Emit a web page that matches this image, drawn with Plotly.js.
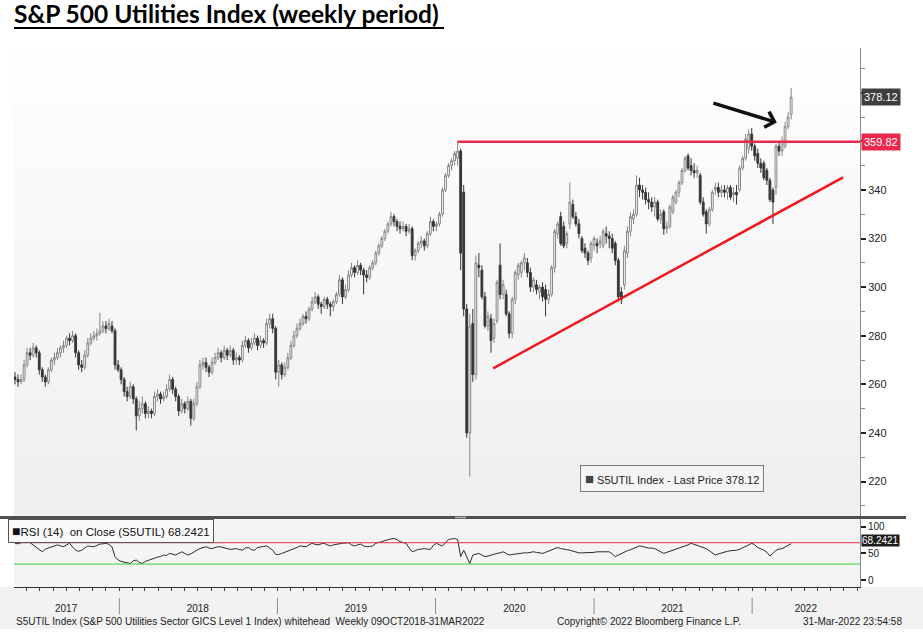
<!DOCTYPE html>
<html><head><meta charset="utf-8">
<script src="https://cdn.plot.ly/plotly-3.0.1.min.js"></script>
<style>html,body{margin:0;padding:0;background:#fff}#chart{width:923px;height:643px}</style>
</head><body><div id="chart"></div>
<script>
// ---- DATA (weekly candles) ----
const firstWeek = '2017-05-05';
const openPx = [
263,262,261,262,268,273,272,275,273,266,
263,261,266,270,271,273,275,276,279,278,
280,273,268,267,272,277,279,280,281,282,
284,283,284,282,268,266,262,257,255,259,
254,247,250,252,248,249,248,255,256,254,
255,258,262,258,255,249,252,250,253,246,
252,259,268,269,267,265,269,271,273,271,
274,272,274,270,271,270,276,278,275,277,
279,276,278,277,285,287,283,265,268,264,
267,271,276,280,283,285,288,287,291,294,
296,293,292,295,293,292,294,297,303,296,
299,305,308,306,309,307,305,304,308,310,
314,317,320,323,326,329,327,325,324,325,
323,324,313,315,318,319,317,322,327,325,
326,330,340,346,350,352,353,356,339,291,
240,285,264,309,307,296,284,287,279,286,
309,297,297,289,281,295,305,306,310,310,
306,300,301,298,300,299,295,297,308,322,
329,325,318,326,334,329,326,320,316,314,
312,317,318,318,317,322,321,320,318,311,
298,301,314,323,328,330,342,340,339,336,
335,333,335,328,331,324,325,331,335,339,
343,348,354,350,348,347,346,335,331,326,
332,340,341,339,340,339,341,338,339,340,
349,353,357,363,358,355,351,351,348,344,
340,341,358,356,358,366,371];
const highPx = [
265,264,264,270,275,275,277,276,274,267,
264,267,271,273,275,276,278,280,281,282,
281,274,270,274,279,281,282,283,289.4,286,
286,287,286,283,270,267,263,259,261,260,
255,253,255,253,251,250,257,258,257,257,
260,264,263,259,256,254,253,255,254,254,
261,270,271,271,268,271,273,275,274,276,
275,276,275,273,272,278,280,279,279,281,
280,280,279,287,289,289,284,270,269,269,
273,278,282,285,287,289,290,292,296,298,
297,294,296,296,294,295,298,305,304,301,
307,310,309,311,310,308,307,309,311,315,
318,321,324,327,331,330,328,327,327,326,
326,325,316,319,321,320,323,329,328,327,
331,341,347,351,353,356,359.82,357,342,293,
289,291,313,314,309,298,290,289,287,303,
318,303,299,290,296,307,310,311,314,312,
308,304,303,301,302,301,299,309,324,327,
331,327,323,343,336,331,328,321,318,315,
319,321,320,321,324,325,323,322,319,312,
300,317,325,331,332,346,345,342,341,339,
337,337,336,332,332,327,334,338,340,344,
349,354,355,353,351,350,347,337,332,333,
340,343,343,342,342,342,342,341,342,350,
354,363,365,365.5,359,357,353,352,349,345,
341,359,360,362,368,372,382];
const lowPx = [
260,259,260,261,267,270,271,271,264,261,
259,260,265,268,270,271,273,275,276,277,
271,266,265,266,271,276,278,278,280,281,
281,282,281,266,265,260,255,253,254,252,
241,245,248,246,246,246,247,253,252,253,
254,257,256,253,247,248,248,249,243,245,
251,258,266,265,263,264,268,270,269,270,
270,271,268,268,268,269,275,273,274,276,
274,275,275,276,283,281,262,259,262,263,
266,270,275,279,282,284,285,286,290,293,
291,289,291,291,288,290,293,296,293,295,
298,304,304,305,305,297,302,303,307,309,
313,316,319,322,325,325,323,322,323,321,
322,311,311,314,316,315,316,321,323,323,
325,329,339,345,348,350,350,307,288,238,
222,261,262,304,295,283,282,273,277,285,
295,295,288,279,279,293,303,304,307,304,
298,298,297,295,294,288,293,296,306,320,
317,316,316,324,328,325,320,314,312,309,
310,315,314,316,316,318,316,314,309,294,
293,299,312,321,326,329,337,336,334,332,
331,329,327,326,321.5,322,324,330,334,337,
342,347,348,346,345,345,334,329,322,325,
331,338,337,337,337,336,336,335,334,339,
348,352,355,356,352,349,347,344,342,335,
326,338,354,354,357,365,369];
const closePx = [
262,261,262,268,273,272,275,273,266,263,
261,266,270,271,273,275,276,279,278,280,
273,268,267,272,277,279,280,281,282,284,
283,285,282,268,266,262,257,255,259,254,
247,250,252,248,249,248,255,256,254,255,
258,262,258,255,249,252,250,253,246,252,
259,268,269,267,265,269,271,273,271,274,
272,274,270,271,270,276,278,275,277,279,
276,278,277,285,287,283,265,268,264,267,
271,276,280,283,285,288,287,291,294,296,
293,292,295,293,292,294,297,303,296,299,
305,308,306,309,307,305,304,308,310,314,
317,320,323,326,329,327,325,324,325,323,
324,313,315,318,319,317,322,327,325,326,
330,340,346,350,352,355,356,314,291,240,
284,264,310,308,296,284,288,278,285,302,
297,301,289,281,295,306,309,310,312,306,
300,303,299,300,296,295,297,308,323,326,
318,317,322,335,329,326,322,315,314,311,
318,320,317,319,323,321,320,316,311,296,
295,315,323,329,330,342,340,339,336,335,
333,335,328,330,324,325,333,337,339,343,
348,353,349,348,347,348,335,330,326,332,
339,341,339,340,339,341,337,339,338,349,
353,361,363,358,354,351,349,345,344,336,
335,358,356,360,366,370,378.12];
const rsi14 = [
69,68,70,72,74,70,66,62.5,57,53,
58,60,62.5,64,66,64,62.5,66,69,62,
56,54,56,60,64,63,62.5,65,67.5,68,
69,67,62,44,38,35,34,32,31,36,
37.5,33,31,35,37.5,39,41,43,44,47,
46,50,49,47,50,53,50,47,49,53,
56,59,61,62.5,60,59,61,62.5,62,61,
59,57.5,58,59,57,56,60,61,57,56,
61,62.5,63,64,60,56,48,48,50,52,
55,57,59,61,64,63,62.5,66,69,67,
66,68,69,66,64,66,67.5,68,69,69.5,
70,66,64,66,67.5,64,62.5,63,64,69,
70,72,74,76,77,78,76,72,70,69,
60,53,55,57.5,58,59,58,57.5,65,69,
66,64,70,76,77,78,76,44,56,44,
31,47,48,50,47,44,45,47,48,50,
51,53,50,47,48,49,50,51,51,51,
52,53,52,51,50,52,54,56,58,61,
59,57.5,57,56,54,52,51,51,51,51,
52,52,53,53,53,53,53,49,44,47,
50,53,55,57,59,62,64,63,61,60,
60,59,56,53,50,52,54,56,58,60,
61,63,66,69,67,65,64,62,59,55,
51,47,49,51,53,54,55,55,56,57.5,
60,63,66,69,66,61,59,56,52,45,
50,56,58,59,62,65,68.2421];
const yearTickDates = ['2017-08-31','2018-07-01','2019-07-01','2020-07-01','2021-07-01','2022-05-05'];
const yearTickLabels = ['2017','2018','2019','2020','2021','2022'];
const yearStarts = ['2018-01-01','2019-01-01','2020-01-01','2021-01-01','2022-01-01'];
const lastPrice = 378.12;
const resistanceLevel = 359.82;
const rsiLast = 68.2421;
const rsiUpper = 70, rsiLower = 30;
const trendStart = ['2020-05-13', 266.6];
const trendEnd = ['2022-07-30', 345.2];
const arrowTip = ['2022-02-27', 367.7];
const priceTicks = [220,240,260,280,300,320,340,360,380];
const priceTickLabels = ['220','240','260','280','300','320','340','',''];  // 360/380 sit under the value boxes
const rsiTicks = [0,50,100];

// ---- build ----
const dates = closePx.map((_, i) => new Date(Date.UTC(2017,4,5) + i*7*86400000).toISOString().slice(0,10));
const peakIdx = highPx.indexOf(Math.max(...highPx.slice(0,200)));
const xRange = ['2017-05-02 17:00', '2022-09-07'];
const FONT = 'Liberation Sans, Arial, sans-serif';

const candles = {
  type:'candlestick', x:dates, open:openPx, high:highPx, low:lowPx, close:closePx,
  xaxis:'x', yaxis:'y', hoverinfo:'skip', whiskerwidth:0,
  increasing:{line:{color:'#858585', width:1}, fillcolor:'#ffffff'},
  decreasing:{line:{color:'#363636', width:1}, fillcolor:'#363636'}
};
const rsiTrace = {
  type:'scatter', mode:'lines', x:dates, y:rsi14, xaxis:'x', yaxis:'y2',
  line:{color:'#2b2b2b', width:1}, hoverinfo:'skip'
};

const pyTop = 48, pyBot = 587, plotH = pyBot - pyTop, plotL = 14, plotW = 846;
const py = p => (pyBot - p) / plotH;      // pixel row -> paper y
const px = p => (p - plotL) / plotW;      // pixel col -> paper x

const shapes = [];
// gradient background of the price pane
const NB = 24, yBase = py(517), yTopPane = 1;
for (let k = 0; k < NB; k++) {
  const t = k / (NB - 1);
  const c = Math.round(0xef + (0xfe - 0xef) * t);
  shapes.push({type:'rect', xref:'paper', yref:'paper', x0:0, x1:1,
    y0: yBase + (yTopPane - yBase) * k / NB, y1: yBase + (yTopPane - yBase) * (k + 1) / NB,
    fillcolor:`rgb(${c},${c},${c})`, line:{width:0}, layer:'below'});
}
// footer band
shapes.push({type:'rect', xref:'paper', yref:'paper', x0:px(0), x1:px(923), y0:py(629), y1:0,
  fillcolor:'#f2f2f2', line:{width:0}, layer:'below'});
// resistance
shapes.push({type:'line', xref:'x', yref:'y', x0:dates[peakIdx], x1:xRange[1], y0:resistanceLevel, y1:resistanceLevel,
  line:{color:'#e8294c', width:2.5}});
// trend line
shapes.push({type:'line', xref:'x', yref:'y', x0:trendStart[0], y0:trendStart[1], x1:trendEnd[0], y1:trendEnd[1],
  line:{color:'#f0161f', width:2.5}});
// RSI bands
shapes.push({type:'line', xref:'paper', yref:'y2', x0:0, x1:1, y0:rsiUpper, y1:rsiUpper, line:{color:'#e8294c', width:1}});
shapes.push({type:'line', xref:'paper', yref:'y2', x0:0, x1:1, y0:rsiLower, y1:rsiLower, line:{color:'#33d433', width:1}});
// pane separator
shapes.push({type:'line', xref:'paper', yref:'paper', x0:px(0), x1:px(906), y0:py(517.5), y1:py(517.5), line:{color:'#505050', width:3}});
shapes.push({type:'line', xref:'paper', yref:'paper', x0:px(455), x1:px(466), y0:py(517.5), y1:py(517.5), line:{color:'#b0b0b0', width:1.5}});
// year separators
yearStarts.forEach(d => shapes.push({type:'line', xref:'x', yref:'paper', x0:d, x1:d, y0:py(598), y1:py(614),
  line:{color:'#8c8c8c', width:1}}));
// title underline
shapes.push({type:'line', xref:'paper', yref:'paper', x0:px(14), x1:px(444), y0:py(28), y1:py(28), line:{color:'#000', width:2}});

const annotations = [
  {xref:'paper', yref:'paper', x:px(580), y:py(478), xanchor:'left', yanchor:'middle', showarrow:false,
   text:'<span style="color:#444;font-size:15px">■</span> S5UTIL Index - Last Price ' + lastPrice.toFixed(2),
   font:{family:FONT, size:11, color:'#222'}, bgcolor:'#f4f4f4', bordercolor:'#7a7a7a', borderwidth:1, borderpad:4},
  {xref:'paper', yref:'paper', x:px(8), y:py(531), xanchor:'left', yanchor:'middle', showarrow:false,
   text:'<span style="color:#111;font-size:14px">■</span>RSI (14)  on Close (S5UTIL) ' + rsiLast,
   font:{family:FONT, size:11.5, color:'#111'}, bgcolor:'#f9f9f9', bordercolor:'#555', borderwidth:1, borderpad:3},
  {xref:'paper', yref:'y', x:px(861), y:lastPrice, xanchor:'left', yanchor:'middle', showarrow:false,
   text:lastPrice.toFixed(2), font:{family:FONT, size:11, color:'#fff'}, bgcolor:'#3f3f3f', borderpad:2},
  {xref:'paper', yref:'y', x:px(861), y:resistanceLevel, xanchor:'left', yanchor:'middle', showarrow:false,
   text:resistanceLevel.toFixed(2), font:{family:FONT, size:11, color:'#fff'}, bgcolor:'#e8294c', borderpad:2},
  {xref:'paper', yref:'y2', x:px(861), y:rsiLast, yshift:3, xanchor:'left', yanchor:'middle', showarrow:false,
   text:String(rsiLast), font:{family:FONT, size:10, color:'#fff'}, bgcolor:'#1c1c1c', borderpad:0},
  {xref:'x', yref:'y', x:arrowTip[0], y:arrowTip[1], text:'', showarrow:true, ax:-65, ay:-20,
   arrowhead:4, arrowsize:0.9, arrowwidth:3.5, arrowcolor:'#111'},
  {xref:'paper', yref:'paper', x:px(14), y:py(621), xanchor:'left', yanchor:'middle', showarrow:false,
   text:'S5UTIL Index (S&amp;P 500 Utilities Sector GICS Level 1 Index) whitehead\u00a0\u00a0Weekly 09OCT2018-31MAR2022',
   font:{family:FONT, size:10, color:'#222'}},
  {xref:'paper', yref:'paper', x:px(649), y:py(621), xanchor:'center', yanchor:'middle', showarrow:false,
   text:'Copyright© 2022 Bloomberg Finance L.P.', font:{family:FONT, size:10, color:'#222'}},
  {xref:'paper', yref:'paper', x:px(904), y:py(621), xanchor:'right', yanchor:'middle', showarrow:false,
   text:'31-Mar-2022 23:54:58', font:{family:FONT, size:10, color:'#222'}}
];

const layout = {
  width:923, height:643, margin:{l:14, r:63, t:48, b:56},
  paper_bgcolor:'#ffffff', plot_bgcolor:'#f4f4f4', showlegend:false, boxgap:0.15,
  title:{text:'<b>S&amp;P 500 Utilities Index (weekly period)</b>', xref:'container', yref:'container',
    x:14/923, xanchor:'left', y:1-14/643, yanchor:'middle', font:{family:'Lato, Open Sans, sans-serif', size:24.5, color:'#000'}},
  xaxis:{type:'date', anchor:'y2', range:xRange, rangeslider:{visible:false}, showgrid:false, zeroline:false,
    showline:true, linecolor:'#333', linewidth:1,
    tickmode:'array', tickvals:yearTickDates, ticktext:yearTickLabels, ticks:'outside', ticklen:12, tickcolor:'rgba(0,0,0,0)',
    tickfont:{family:FONT, size:10, color:'#222'},
    minor:{tickmode:'linear', tick0:'2017-01-01', dtick:'M1', ticks:'outside', ticklen:3, tickcolor:'#444', tickwidth:1, showgrid:false}},
  yaxis:{domain:[py(517), 1], side:'right', range:[205.4, 398.4], showgrid:false, zeroline:false,
    showline:true, linecolor:'#8a8a8a', linewidth:1, tickmode:'array', tickvals:priceTicks, ticktext:priceTickLabels,
    ticks:'outside', ticklen:5, tickwidth:2, tickcolor:'#222', tickfont:{family:FONT, size:11, color:'#222'},
    minor:{tickmode:'linear', tick0:210, dtick:20, ticks:'outside', ticklen:4, tickcolor:'#888', tickwidth:1}},
  yaxis2:{domain:[0, py(519)], side:'right', range:[-13, 114.5], showgrid:false, zeroline:false,
    showline:true, linecolor:'#8a8a8a', linewidth:1, tickmode:'array', tickvals:rsiTicks,
    ticks:'outside', ticklen:5, tickwidth:2, tickcolor:'#222', tickfont:{family:FONT, size:10, color:'#222'}},
  shapes, annotations
};

Plotly.newPlot('chart', [candles, rsiTrace], layout, {staticPlot:true, displayModeBar:false});
</script></body></html>
